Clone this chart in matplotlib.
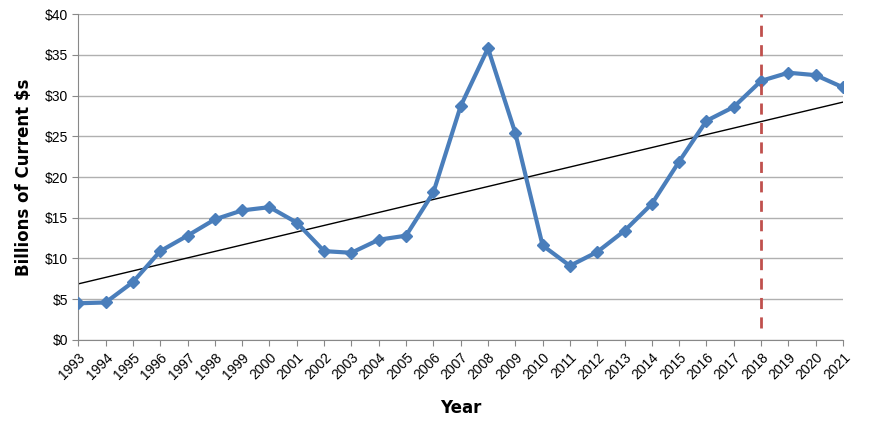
import matplotlib.pyplot as plt
import numpy as np

# data
years = list(range(1993, 2022))
values = [4.5, 4.6, 7.1, 10.9, 12.8, 14.8, 15.9, 16.3, 14.4, 10.9, 10.7, 12.3, 12.8,
          18.1, 28.7, 35.8, 25.4, 11.6, 9.1, 10.8, 13.4, 16.7, 21.9, 26.9, 28.6,
          31.8, 32.8, 32.5, 31.0]
marker_year = 2018

fig = plt.figure(figsize=(8.7, 4.26), dpi=100)
ax = fig.add_axes([0.09, 0.202, 0.879, 0.765])

ax.plot(years, values, color='#4a7ebb', lw=3, marker='D', ms=6,
        markerfacecolor='#4a7ebb', markeredgecolor='#4a7ebb', zorder=3)

# linear trend
k, b = np.polyfit(years, values, 1)
x = np.array([years[0], years[-1]])
ax.plot(x, k * x + b, color='black', lw=1, zorder=2)

ax.plot([marker_year, marker_year], [1.5, 40], color='#c0504d', lw=2, ls=(0, (4, 3)), zorder=4)

ax.set_xlim(years[0], years[-1])
ax.set_ylim(0, 40)
ax.set_yticks(range(0, 41, 5))
ax.set_yticklabels([f'${v}' for v in range(0, 41, 5)], fontsize=10, fontname='Liberation Sans')
ax.set_xticks(years)
ax.set_xticklabels([str(y) for y in years], rotation=45, ha='right', rotation_mode='anchor',
                   fontsize=10, fontname='Liberation Sans')
ax.grid(axis='y', color='#b0b0b0', lw=1)
ax.set_axisbelow(True)
for s in ['top', 'right']:
    ax.spines[s].set_visible(False)
ax.spines['left'].set_color('#888888')
ax.spines['bottom'].set_color('#888888')
ax.tick_params(length=4, color='#888888')
ax.set_xlabel('Year', fontsize=12, fontweight='bold', labelpad=12)
ax.set_ylabel('Billions of Current $s', fontsize=12, fontweight='bold', labelpad=8)

fig.savefig('out.png', dpi=100)
